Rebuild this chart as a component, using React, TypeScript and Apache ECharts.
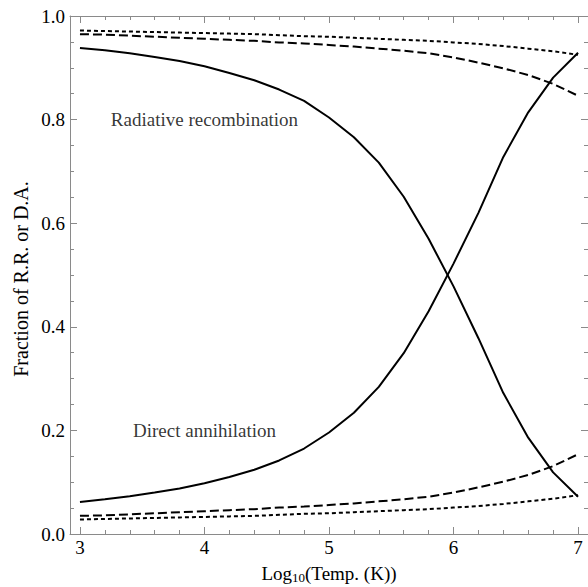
import React, { useEffect, useRef } from "react";
import * as echarts from "echarts";

const xValues = [3.0, 3.2, 3.4, 3.6, 3.8, 4.0, 4.2, 4.4, 4.6, 4.8, 5.0, 5.2, 5.4, 5.6, 5.8, 6.0, 6.2, 6.4, 6.6, 6.8, 7.0];

// Solid curves
const radiativeSolid = [0.938, 0.934, 0.928, 0.921, 0.913, 0.903, 0.890, 0.876, 0.858, 0.836, 0.804, 0.766, 0.717, 0.651, 0.570, 0.478, 0.378, 0.272, 0.186, 0.119, 0.072];
const directSolid = [0.062, 0.067, 0.073, 0.080, 0.088, 0.098, 0.110, 0.124, 0.142, 0.165, 0.196, 0.234, 0.284, 0.349, 0.430, 0.522, 0.620, 0.728, 0.814, 0.881, 0.929];
// Dashed curves
const radiativeDashed = [0.965, 0.964, 0.962, 0.960, 0.958, 0.956, 0.954, 0.952, 0.949, 0.947, 0.944, 0.941, 0.937, 0.933, 0.928, 0.920, 0.910, 0.899, 0.886, 0.869, 0.846];
const directDashed = [0.035, 0.036, 0.038, 0.040, 0.042, 0.044, 0.046, 0.048, 0.051, 0.053, 0.056, 0.059, 0.063, 0.067, 0.072, 0.080, 0.090, 0.101, 0.114, 0.131, 0.154];
// Dotted curves
const radiativeDotted = [0.972, 0.971, 0.970, 0.969, 0.968, 0.967, 0.966, 0.965, 0.963, 0.961, 0.960, 0.958, 0.956, 0.954, 0.952, 0.949, 0.946, 0.942, 0.937, 0.932, 0.925];
const directDotted = [0.028, 0.029, 0.030, 0.031, 0.032, 0.033, 0.034, 0.035, 0.037, 0.039, 0.040, 0.042, 0.044, 0.046, 0.048, 0.051, 0.054, 0.058, 0.063, 0.068, 0.075];

const xMajorTicks = [3, 4, 5, 6, 7];
const xMinorTicks = [3.2, 3.4, 3.6, 3.8, 4.2, 4.4, 4.6, 4.8, 5.2, 5.4, 5.6, 5.8, 6.2, 6.4, 6.6, 6.8];

const annotationTexts = ["Radiative recombination", "Direct annihilation"];
const annotationX = [4, 4];
const annotationY = [0.8, 0.2];

const xTitle = "{a|Log}{s|10}{a|(Temp. (K))}";
const yTitle = "Fraction of R.R. or D.A.";

const FONT = "Liberation Serif";
const FRAME = "#8a8a8a";

function pairs(ys: number[]) {
  return xValues.map((x, i) => [x, ys[i]]);
}

export default function App() {
  const ref = useRef<HTMLDivElement>(null);
  useEffect(() => {
    if (!ref.current) return;
    const chart = echarts.init(ref.current, undefined, { renderer: "svg" });
    const gridRect = { left: 70, top: 16, width: 518, height: 518 };
    const xBase = { min: 2.92, max: 7.08, type: "value" as const, splitLine: { show: false } };
    const lineSeries = (data: number[], type: any, name: string) => ({
      name,
      type: "line",
      xAxisIndex: 0,
      yAxisIndex: 0,
      data: pairs(data),
      showSymbol: false,
      symbol: "none",
      lineStyle: { color: "#000", width: 2, type },
      z: 3,
    });
    chart.setOption({
      animation: false,
      textStyle: { fontFamily: FONT },
      grid: [
        { ...gridRect },
        { ...gridRect },
      ],
      xAxis: [
        {
          ...xBase,
          gridIndex: 0,
          position: "bottom",
          axisLine: { show: true, onZero: false, lineStyle: { color: FRAME, width: 1 } },
          axisTick: { show: true, inside: true, length: 7, customValues: xMajorTicks, lineStyle: { color: FRAME } },
          axisLabel: { show: true, customValues: xMajorTicks, fontSize: 19, color: "#000", fontFamily: FONT, margin: 4 },
        },
        {
          ...xBase,
          gridIndex: 0,
          position: "top",
          axisLine: { show: true, onZero: false, lineStyle: { color: FRAME, width: 1 } },
          axisTick: { show: true, inside: true, length: 7, customValues: xMajorTicks, lineStyle: { color: FRAME } },
          axisLabel: { show: false },
        },
        {
          ...xBase,
          gridIndex: 1,
          position: "bottom",
          axisLine: { show: false, onZero: false },
          axisTick: { show: true, inside: true, length: 4, customValues: xMinorTicks, lineStyle: { color: FRAME } },
          axisLabel: { show: false },
        },
        {
          ...xBase,
          gridIndex: 1,
          position: "top",
          axisLine: { show: false, onZero: false },
          axisTick: { show: true, inside: true, length: 4, customValues: xMinorTicks, lineStyle: { color: FRAME } },
          axisLabel: { show: false },
        },
      ],
      yAxis: [
        {
          type: "value",
          gridIndex: 0,
          position: "left",
          min: 0,
          max: 1,
          interval: 0.2,
          splitLine: { show: false },
          axisLine: { show: true, onZero: false, lineStyle: { color: FRAME, width: 1 } },
          axisTick: { show: true, inside: true, length: 7, lineStyle: { color: FRAME } },
          minorTick: { show: true, splitNumber: 4, length: 4, lineStyle: { color: FRAME } },
          minorSplitLine: { show: false },
          axisLabel: {
            show: true,
            fontSize: 19,
            color: "#000",
            fontFamily: FONT,
            margin: 5,
            formatter: (v: number) => v.toFixed(1),
          },
        },
        {
          type: "value",
          gridIndex: 0,
          position: "right",
          min: 0,
          max: 1,
          interval: 0.2,
          splitLine: { show: false },
          axisLine: { show: true, onZero: false, lineStyle: { color: FRAME, width: 1 } },
          axisTick: { show: true, inside: true, length: 7, lineStyle: { color: FRAME } },
          minorTick: { show: true, splitNumber: 4, length: 4, lineStyle: { color: FRAME } },
          minorSplitLine: { show: false },
          axisLabel: { show: false },
        },
        {
          type: "value",
          gridIndex: 1,
          min: 0,
          max: 1,
          show: false,
        },
      ],
      series: [
        lineSeries(radiativeSolid, "solid", "RR solid"),
        lineSeries(directSolid, "solid", "DA solid"),
        lineSeries(radiativeDashed, [9, 4], "RR dashed"),
        lineSeries(directDashed, [9, 4], "DA dashed"),
        lineSeries(radiativeDotted, [4, 3], "RR dotted"),
        lineSeries(directDotted, [4, 3], "DA dotted"),
        {
          type: "line",
          xAxisIndex: 2,
          yAxisIndex: 2,
          data: [],
          showSymbol: false,
          silent: true,
        },
        {
          type: "scatter",
          xAxisIndex: 0,
          yAxisIndex: 0,
          symbolSize: 1,
          itemStyle: { color: "rgba(0,0,0,0)" },
          data: annotationTexts.map((t, i) => ({ value: [annotationX[i], annotationY[i]], name: t })),
          label: {
            show: true,
            position: "inside",
            formatter: (p: any) => "{t|" + p.name + "}",
            rich: {
              t: { fontSize: 19, fontFamily: FONT, color: "#000" },
            },
            fontSize: 19,
            color: "#000",
            fontFamily: FONT,
          },
          z: 4,
        },
      ],
      graphic: [
        {
          type: "text",
          x: 329,
          y: 573,
          style: {
            text: xTitle,
            align: "center",
            verticalAlign: "middle",
            fill: "#000",
            rich: {
              a: { fontSize: 19, fontFamily: FONT, lineHeight: 22, fill: "#000" },
              s: { fontSize: 13, fontFamily: FONT, lineHeight: 13, verticalAlign: "bottom", fill: "#000" },
            },
          },
        },
        {
          type: "text",
          x: 21,
          y: 279,
          rotation: Math.PI / 2,
          style: {
            text: yTitle,
            align: "center",
            verticalAlign: "middle",
            fontSize: 20,
            fontFamily: FONT,
            fill: "#000",
          },
        },
      ],
    });
    return () => chart.dispose();
  }, []);
  return (
    <div
      ref={ref}
      style={{ position: "fixed", left: 0, top: 0, width: 588, height: 587, background: "#fff" }}
    />
  );
}
